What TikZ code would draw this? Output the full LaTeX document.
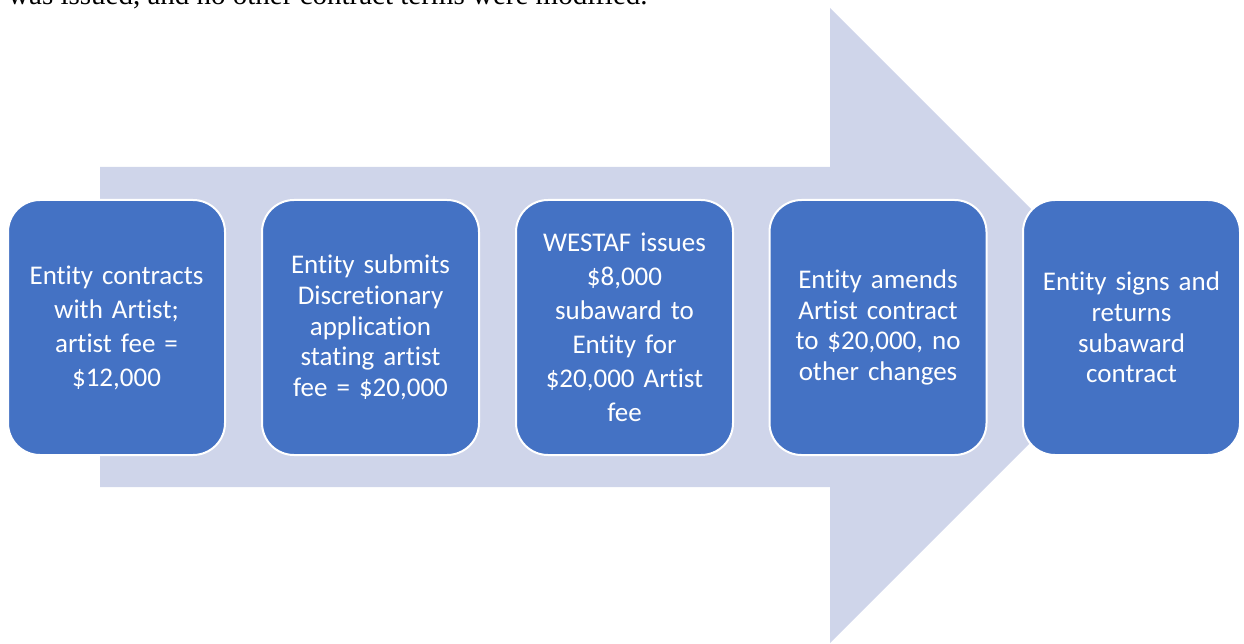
\documentclass[tikz,border=0pt]{standalone}
\usepackage{fontspec}
\setmainfont{Carlito}[Ligatures=NoCommon]
\newfontfamily\bodyserif{Liberation Serif}
\definecolor{stepblue}{HTML}{4472C4}
\definecolor{arrowfill}{HTML}{CFD5EA}
\begin{document}
\begin{tikzpicture}[x=1pt,y=-1pt,
  stepbox/.style={draw=white, line width=2pt, fill=stepblue, rounded corners=32pt,
    minimum width=217pt, minimum height=255pt, inner sep=0pt,
    text=white, align=center, text width=210pt,
    font=\fontsize{27}{30.6}\selectfont},
  loosebox/.style={stepbox, font=\fontsize{27}{34}\selectfont},
  bigarrow/.style={fill=arrowfill, draw=none}]
\useasboundingbox (0,0) rectangle (1244,644);
% running text line above the figure
\node[anchor=base west, inner sep=0pt, font=\bodyserif\fontsize{29}{34}\selectfont] (caption) at (8,5)
  {was issued, and no other contract terms were modified.};
% wide process arrow behind the steps
\path[bigarrow] (100,167) -- (830,167) -- (830,8) -- (1147.5,325.5) -- (830,643)
  -- (830,487) -- (100,487) -- cycle;
% process steps
\node[loosebox] (s1) at (116.5,327.5) {Entity contracts\\ with Artist;\\ artist fee =\\ \$12,000};
\node[stepbox] (s2) at (370.5,327.5) {Entity submits\\ Discretionary\\ application\\ stating artist\\ fee = \$20,000};
\node[loosebox] (s3) at (624.5,327.5) {WESTAF issues\\ \$8,000\\ subaward to\\ Entity for\\ \$20,000 Artist\\ fee};
\node[stepbox] (s4) at (878,327.5) {Entity amends\\ Artist contract\\ to \$20,000, no\\ other changes};
\node[stepbox] (s5) at (1131.5,327.5) {Entity signs and\\ returns\\ subaward\\ contract};
\end{tikzpicture}
\end{document}
